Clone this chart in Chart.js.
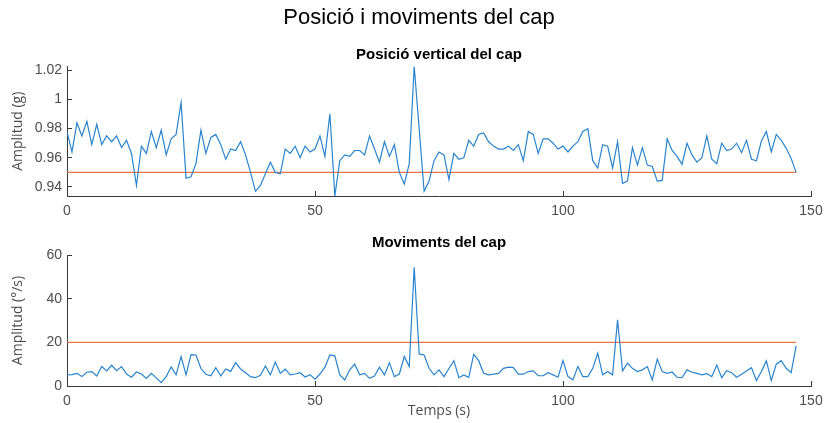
<!DOCTYPE html>
<html>
<head>
<meta charset="utf-8">
<title>Posició i moviments del cap</title>
<script src="https://cdn.jsdelivr.net/npm/chart.js@4.4.1/dist/chart.umd.min.js"></script>
<style>
  body { margin: 0; background: #fff; }
  #wrap { position: relative; width: 824px; height: 423px; }
  canvas { position: absolute; left: 0; }
  #c1 { top: 0; }
  #c2 { top: 222px; }
  #main {
    position: absolute; top: 4px; left: 219px; width: 400px; text-align: center;
    font: 22px/26px "Liberation Sans", Arial, sans-serif; color: #000; z-index: 2;
  }
</style>
</head>
<body>
<div id="wrap">
  <div id="main">Posició i moviments del cap</div>
  <canvas id="c1" width="824" height="222"></canvas>
  <canvas id="c2" width="824" height="201"></canvas>
</div>
<script>
// values, one sample per second (0..147 s)
var vertical = [
  0.978, 0.964, 0.984, 0.975, 0.985, 0.969, 0.983, 0.969, 0.975, 0.971,
  0.975, 0.967, 0.972, 0.963, 0.941, 0.968, 0.963, 0.978, 0.967, 0.979,
  0.962, 0.973, 0.976, 0.998, 0.946, 0.947, 0.956, 0.979, 0.963, 0.974,
  0.976, 0.969, 0.959, 0.966, 0.965, 0.971, 0.962, 0.950, 0.937, 0.941,
  0.949, 0.957, 0.950, 0.949, 0.966, 0.963, 0.968, 0.960, 0.968, 0.964,
  0.966, 0.975, 0.961, 0.990, 0.9338, 0.958, 0.962, 0.961, 0.965, 0.965,
  0.962, 0.975, 0.966, 0.957, 0.971, 0.961, 0.969, 0.950, 0.942, 0.956,
  1.0226, 0.980, 0.937, 0.944, 0.958, 0.964, 0.962, 0.945, 0.963, 0.959,
  0.960, 0.972, 0.968, 0.976, 0.977, 0.971, 0.968, 0.966, 0.966, 0.968,
  0.965, 0.969, 0.958, 0.978, 0.976, 0.963, 0.973, 0.973, 0.970, 0.966,
  0.968, 0.964, 0.968, 0.971, 0.978, 0.980, 0.958, 0.953, 0.969, 0.968,
  0.953, 0.971, 0.9425, 0.944, 0.967, 0.955, 0.967, 0.955, 0.954, 0.944,
  0.9445, 0.973, 0.965, 0.961, 0.9555, 0.970, 0.962, 0.957, 0.960, 0.975,
  0.959, 0.956, 0.970, 0.965, 0.966, 0.970, 0.9635, 0.972, 0.959, 0.958,
  0.9715, 0.978, 0.964, 0.976, 0.972, 0.9665, 0.9595, 0.950
];
var moves = [
  5.1, 5.2, 5.8, 4.3, 6.3, 6.6, 4.6, 8.9, 6.9, 9.5,
  7.0, 8.9, 5.5, 4.0, 6.4, 5.5, 3.5, 5.8, 3.7, 1.5,
  4.3, 8.7, 5.1, 13.5, 5.1, 14.4, 14.2, 8.0, 5.4, 4.7,
  8.4, 4.6, 7.8, 6.7, 10.7, 7.8, 6.1, 4.3, 3.8, 4.9,
  9.2, 5.1, 11.0, 5.8, 7.7, 5.1, 5.5, 6.1, 4.1, 5.2,
  3.1, 5.5, 8.6, 14.2, 13.8, 5.1, 2.8, 7.4, 10.0, 5.1,
  5.8, 3.5, 4.6, 8.6, 5.1, 10.7, 4.3, 5.5, 13.5, 8.9,
  54.4, 14.7, 14.2, 8.1, 5.1, 7.4, 4.3, 8.0, 11.6, 3.8,
  5.1, 4.0, 14.5, 11.6, 5.8, 5.1, 5.4, 5.8, 8.1, 8.6,
  8.4, 5.4, 5.4, 6.6, 6.9, 4.7, 4.7, 6.1, 5.1, 4.0,
  11.6, 4.3, 2.8, 8.9, 4.3, 4.3, 8.1, 15.0, 5.1, 6.6,
  5.1, 30.3, 6.9, 10.4, 8.1, 6.6, 7.4, 8.9, 2.8, 12.3,
  6.6, 5.8, 6.4, 4.0, 3.8, 7.4, 6.3, 5.8, 5.1, 5.7,
  4.3, 9.6, 3.8, 7.0, 6.1, 4.0, 5.4, 6.9, 8.4, 2.5,
  6.6, 11.5, 2.5, 10.0, 11.6, 8.1, 6.1, 18.4
];
var vertLimit = 0.95;
var moveLimit = 20;

var timeTicks = [0, 50, 100, 150];
var vertTicks = [0.94, 0.96, 0.98, 1, 1.02];
var moveTicks = [0, 20, 40, 60];

var times = vertical.map(function (v, i) { return i; });

var blue = '#2a84cc';
var orange = '#e8744a';
var axisColor = '#3a3a3a';
var tickFont = { family: '"Liberation Sans", Arial, sans-serif', size: 14 };
var labelFont = { family: '"Open Sans", sans-serif', size: 14 };
var subFont = { family: '"Liberation Sans", Arial, sans-serif', size: 15, weight: 'bold' };

function setTicks(list) {
  return function (scale) {
    scale.ticks = list.map(function (v) { return { value: v }; });
  };
}

function makeChart(id, values, limit, yMin, yMax, yTicks, yLabel, xTitle, xHeight, title) {
  var pts = times.map(function (t, i) { return { x: t, y: values[i] }; });
  var limitPts = [
    { x: times[0], y: limit },
    { x: times[times.length - 1], y: limit }
  ];

  return new Chart(document.getElementById(id), {
    type: 'line',
    data: {
      datasets: [
        { data: pts, borderColor: blue, borderWidth: 1.2, pointRadius: 0, tension: 0 },
        { data: limitPts, borderColor: orange, borderWidth: 1.2, pointRadius: 0 }
      ]
    },
    options: {
      responsive: false,
      animation: false,
      layout: { padding: { left: 0, right: 13, top: 0, bottom: 0 } },
      plugins: {
        legend: { display: false },
        tooltip: { enabled: false },
        title: title
      },
      scales: {
        x: {
          type: 'linear',
          min: 0,
          max: 150,
          afterBuildTicks: setTicks(timeTicks),
          afterFit: function (s) { s.height = xHeight; s.paddingLeft = 0; s.paddingRight = 0; },
          ticks: { color: '#4d4d4d', font: tickFont, padding: 12, maxRotation: 0,
                   callback: function (v) { return String(v); } },
          grid: { drawOnChartArea: false, drawTicks: true, tickLength: -5, tickColor: axisColor },
          border: { display: true, color: axisColor, width: 1 },
          title: { display: !!xTitle, text: xTitle, color: '#4d4d4d', font: labelFont,
                   padding: { top: 0, bottom: 4 } }
        },
        y: {
          min: yMin,
          max: yMax,
          afterBuildTicks: setTicks(yTicks),
          afterFit: function (s) { s.width = 67; s.paddingTop = 0; s.paddingBottom = 0; },
          ticks: { color: '#4d4d4d', font: tickFont, padding: 10,
                   callback: function (v) { return String(v); } },
          grid: { drawOnChartArea: false, drawTicks: true, tickLength: -5, tickColor: axisColor },
          border: { display: true, color: axisColor, width: 1 },
          title: { display: true, text: yLabel, color: '#4d4d4d', font: labelFont,
                   padding: { top: 10, bottom: 0 } }
        }
      }
    }
  });
}

makeChart('c1', vertical, vertLimit, 0.9338, 1.0226, vertTicks, 'Amplitud (g)', '', 26, {
  display: true,
  fullSize: false,
  text: 'Posició vertical del cap',
  color: '#000',
  font: subFont,
  padding: { top: 45.8, bottom: 2.7 }
});

makeChart('c2', moves, moveLimit, 0, 60, moveTicks, 'Amplitud (°/s)', 'Temps (s)', 37, {
  display: true,
  fullSize: false,
  text: 'Moviments del cap',
  color: '#000',
  font: subFont,
  padding: { top: 11.8, bottom: 3.2 }
});
</script>
</body>
</html>
